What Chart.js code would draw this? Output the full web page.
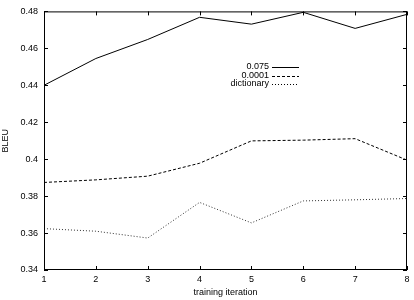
<!DOCTYPE html>
<html>
<head>
<meta charset="utf-8">
<script src="https://cdn.jsdelivr.net/npm/chart.js@4/dist/chart.umd.min.js"></script>
<style>
  html, body { margin: 0; padding: 0; background: #fff; }
  #wrap { width: 414px; height: 300px; }
</style>
</head>
<body>
<div id="wrap"><canvas id="c"></canvas></div>
<script>
const iterations = [1, 2, 3, 4, 5, 6, 7, 8];
const lr0075 = [0.440, 0.4545, 0.4648, 0.4768, 0.4731, 0.4795, 0.4708, 0.4784];
const lr00001 = [0.3874, 0.3888, 0.3908, 0.3978, 0.4099, 0.4103, 0.4111, 0.3995];
const dictionary = [0.3624, 0.3610, 0.3573, 0.3766, 0.3655, 0.3774, 0.3780, 0.3787];
const seriesNames = ['0.075', '0.0001', 'dictionary'];

const FONT = { family: '"Liberation Sans", Arial, sans-serif', size: 9 };

function pts(vals) {
  return vals.map((v, i) => ({ x: iterations[i], y: v }));
}

// gnuplot style: box, inward ticks, legend with line samples
const gnuplotLook = {
  id: 'gnuplotLook',
  afterDraw(chart) {
    const { ctx, chartArea: a, scales } = chart;
    ctx.save();
    ctx.strokeStyle = '#000';
    ctx.lineWidth = 1;
    ctx.setLineDash([]);
    ctx.strokeRect(a.left + 0.5, a.top + 0.5, a.right - a.left - 1, a.bottom - a.top - 1);
    const t = 4;
    ctx.beginPath();
    scales.x.ticks.forEach(tk => {
      const px = Math.round(scales.x.getPixelForValue(tk.value)) + 0.5;
      ctx.moveTo(px, a.bottom); ctx.lineTo(px, a.bottom - t);
      ctx.moveTo(px, a.top); ctx.lineTo(px, a.top + t);
    });
    scales.y.ticks.forEach(tk => {
      const py = Math.round(scales.y.getPixelForValue(tk.value)) + 0.5;
      ctx.moveTo(a.left, py); ctx.lineTo(a.left + t, py);
      ctx.moveTo(a.right, py); ctx.lineTo(a.right - t, py);
    });
    ctx.stroke();

    // legend
    ctx.font = FONT.size + 'px ' + FONT.family;
    ctx.fillStyle = '#000';
    ctx.textAlign = 'right';
    ctx.textBaseline = 'middle';
    chart.data.datasets.forEach((ds, i) => {
      const y = 67 + i * 8.5;
      ctx.fillText(ds.label, 269, y);
      ctx.beginPath();
      ctx.setLineDash(ds.borderDash || []);
      ctx.moveTo(272, Math.round(y) + 0.5);
      ctx.lineTo(299, Math.round(y) + 0.5);
      ctx.stroke();
    });
    ctx.restore();
  }
};

new Chart(document.getElementById('c'), {
  type: 'line',
  data: {
    datasets: [
      { label: seriesNames[0], data: pts(lr0075), borderColor: '#000', borderWidth: 1, borderDash: [] },
      { label: seriesNames[1], data: pts(lr00001), borderColor: '#000', borderWidth: 1, borderDash: [3, 2] },
      { label: seriesNames[2], data: pts(dictionary), borderColor: '#333', borderWidth: 1, borderDash: [1, 2] }
    ]
  },
  options: {
    responsive: true,
    maintainAspectRatio: false,
    animation: false,
    layout: { padding: { top: 6, right: 7, left: 0, bottom: 0 } },
    elements: { point: { radius: 0 }, line: { tension: 0 } },
    plugins: { legend: { display: false }, tooltip: { enabled: false } },
    scales: {
      x: {
        type: 'linear', min: 1, max: 8,
        ticks: { stepSize: 1, color: '#000', font: FONT, padding: 4 },
        grid: { display: false, drawTicks: false },
        border: { display: false },
        title: { display: true, text: 'training iteration', color: '#000', font: FONT, padding: { top: 4, bottom: 2 } },
        afterFit(s) { s.height = 30; }
      },
      y: {
        min: 0.34, max: 0.48,
        ticks: { stepSize: 0.02, color: '#000', font: FONT, padding: 6,
          callback: v => String(+v.toFixed(2)) },
        grid: { display: false, drawTicks: false },
        border: { display: false },
        title: { display: true, text: 'BLEU', color: '#000', font: FONT, padding: 0 },
        afterFit(s) { s.width = 44; }
      }
    }
  },
  plugins: [gnuplotLook]
});
</script>
</body>
</html>
